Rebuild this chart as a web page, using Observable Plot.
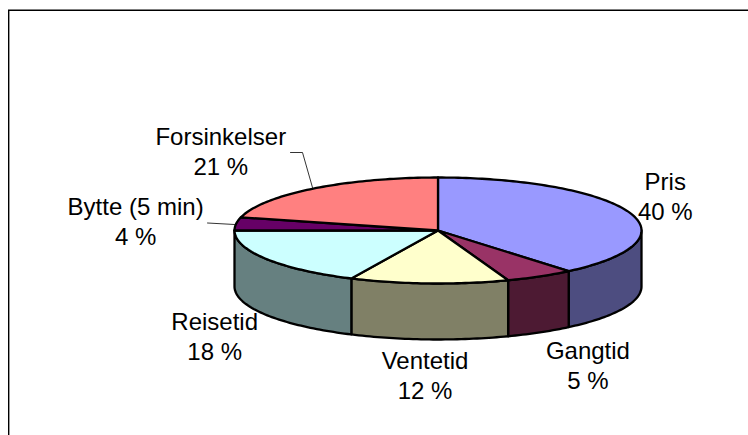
<!DOCTYPE html>
<html><head><meta charset="utf-8">
<style>html,body{margin:0;padding:0;background:#fff}svg{display:block}</style>
<script src="https://cdn.jsdelivr.net/npm/d3@7"></script>
<script src="https://cdn.jsdelivr.net/npm/@observablehq/plot@0.6"></script>
</head><body><div id="c"></div>
<script>
const categories = ["Pris","Gangtid","Ventetid","Reisetid","Bytte (5 min)","Forsinkelser"];
// printed percentages
const percentLabels = [40,5,12,18,4,21];
// slice sizes as measured from the slice edges in the picture
const shares = [38.9,5.5,12.6,18,4,21];
const topColors = ["#9999ff","#993366","#ffffcc","#ccffff","#660066","#ff8080"];
const sideColors = ["#4d4d80","#4d1a33","#808066","#668080","#330033","#804040"];

const W=748,H=435;
const cx=437.5,cy=230,rx=203.5,ry=53,depth=56,font=24;
const rad=d3.scaleLinear().domain([0,100]).range([0,2*Math.PI]);
let acc=0;
const slices=categories.map((name,i)=>{const a0=rad(acc);acc+=shares[i];return {name,i,a0,a1:rad(acc)};});
const px=a=>cx+rx*Math.sin(a), py=a=>cy-ry*Math.cos(a);
function arc(a0,a1){const n=Math.max(2,Math.ceil((a1-a0)/0.02));return d3.range(n+1).map(k=>{const a=a0+(a1-a0)*k/n;return [px(a),py(a)];});}
const tops=[],walls=[];
for(const s of slices){
  const pts=[[cx,cy],...arc(s.a0,s.a1),[cx,cy]];
  pts.forEach(([x,y])=>tops.push({x,y,key:s.name,col:topColors[s.i]}));
  const lo=Math.max(s.a0,Math.PI/2),hi=Math.min(s.a1,3*Math.PI/2);
  if(hi>lo){
    const e=arc(lo,hi);
    const poly=[...e,...e.slice().reverse().map(([x,y])=>[x,y+depth]),e[0]];
    poly.forEach(([x,y])=>walls.push({x,y,key:s.name,col:sideColors[s.i]}));
  }
}
// per-label layout relative to the rim point at each slice's mid-angle
const labelOffsets=[[36,-17],[48,88],[-4,90.5],[-51.5,76.5],[-100.5,-3.5],[-92.5,-38.5]];
function labelMark(i){
  const s=slices[i],m=(s.a0+s.a1)/2,[dx,dy]=labelOffsets[i];
  return Plot.text([s],{x:()=>px(m),y:()=>py(m),
    text:()=>`${categories[i]}\n${percentLabels[i]} %`,dx,dy,fontSize:font,lineHeight:1.25,
    fontFamily:"Liberation Sans, Arial, sans-serif",fill:"#000",textAnchor:"middle",lineAnchor:"middle"});
}
const leader=[[[290,152],[302,152],[312,187]],[[207,222.5],[234,224]]]
  .flatMap((l,k)=>l.map(([x,y])=>({x,y,k})));
const chart=Plot.plot({
  width:W,height:H,margin:0,
  x:{domain:[0,W],range:[0,W],axis:null},
  y:{domain:[0,H],range:[0,H],axis:null},
  color:{type:"identity"},
  marks:[
    Plot.ruleY([9.8],{x1:8,x2:748,stroke:"#000",strokeWidth:1.4}),
    Plot.ruleX([8.2],{y1:10,y2:435,stroke:"#000",strokeWidth:1.4}),
    Plot.line(leader,{x:"x",y:"y",z:"k",stroke:"#000",strokeWidth:0.8,curve:"linear"}),
    Plot.line(walls,{x:"x",y:"y",z:"key",fill:"col",stroke:"#000",strokeWidth:2.3,strokeLinejoin:"round",curve:"linear"}),
    Plot.line(tops,{x:"x",y:"y",z:"key",fill:"col",stroke:"#000",strokeWidth:2.3,strokeLinejoin:"round",curve:"linear"}),
    ...categories.map((_,i)=>labelMark(i))
  ]
});
document.getElementById("c").append(chart);
</script></body></html>
